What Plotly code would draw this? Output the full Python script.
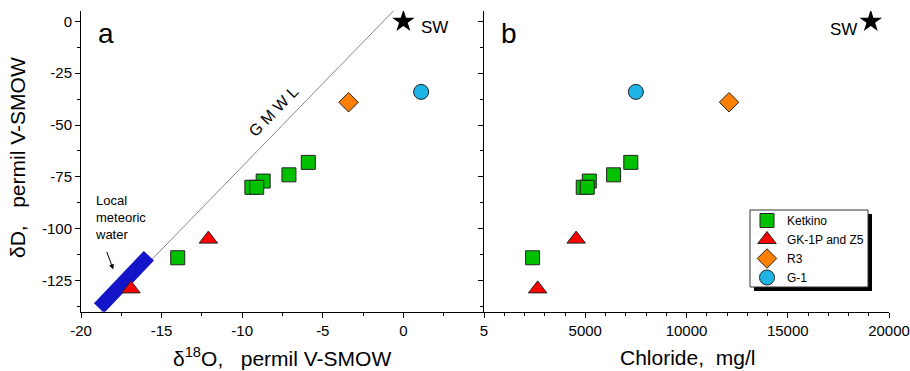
import plotly.graph_objects as go

W, H = 910, 371

# ---------------- data ----------------
# Panel a: delta18O vs deltaD ; Panel b: chloride vs deltaD
ketkino_d18o = [-5.9, -7.1, -8.7, -9.4, -9.1, -14.0]
ketkino_cl = [7250, 6400, 5200, 4900, 5100, 2400]
ketkino_dD = [-68, -74, -77, -80, -80, -114]

gk_d18o = [-12.1, -16.9]
gk_cl = [4550, 2650]
gk_dD = [-105, -129]

r3_d18o = [-3.4]
r3_cl = [12100]
r3_dD = [-39]

g1_d18o = [1.1]
g1_cl = [7500]
g1_dD = [-34]

sw_d18o = [0.0]
sw_cl = [19100]
sw_dD = [0.0]

# Global meteoric water line (dD = 8*d18O + 10)
gmwl_d18o = [-20, 0]
gmwl_dD = [-150, 10]
# Local meteoric water band
lmw_d18o = [-18.88, -15.79]
lmw_dD = [-138.3, -113.0]

# ticks
xa_tickvals = [-20, -15, -10, -5, 0, 5]
xa_ticktext = ["-20", "-15", "-10", "-5", "0", "5"]
xb_tickvals = [0, 5000, 10000, 15000, 20000]
xb_ticktext = ["", "5000", "10000", "15000", "20000"]
y_tickvals = [0, -25, -50, -75, -100, -125]
y_ticktext = ["0", "-25", "-50", "-75", "-100", "-125"]

# ---------------- styles ----------------
FONT = "Arial, Liberation Sans, sans-serif"
GREEN = "#00c000"
RED = "#ff0000"
ORANGE = "#ff8000"
CYAN = "#1eb4e6"
BLUE = "#1414c8"
OUT = dict(color="#222222", width=1)

def px(x):
    return x / W

def py(y):
    return 1 - y / H

xa_dom = [px(81), px(484)]
xb_dom = [px(484), px(889)]
y_dom = [py(311.7), py(11)]
XA_RANGE = [-20, 5]
XB_RANGE = [0, 20000]
Y_RANGE = [-140, 5]

fig = go.Figure()

# panel a
fig.add_trace(go.Scatter(x=gmwl_d18o, y=gmwl_dD, mode="lines",
                         line=dict(color="#888888", width=1),
                         showlegend=False, hoverinfo="skip", xaxis="x", yaxis="y"))
fig.add_trace(go.Scatter(x=lmw_d18o, y=lmw_dD, mode="lines",
                         line=dict(color=BLUE, width=14),
                         showlegend=False, hoverinfo="skip", xaxis="x", yaxis="y"))

series = [
    ("Ketkino", ketkino_d18o, ketkino_cl, ketkino_dD, "square", GREEN, 14),
    ("GK-1P and Z5", gk_d18o, gk_cl, gk_dD, "triangle-up", RED, 16),
    ("R3", r3_d18o, r3_cl, r3_dD, "diamond", ORANGE, 15),
    ("G-1", g1_d18o, g1_cl, g1_dD, "circle", CYAN, 15),
]
for name, xo, xc, yd, sym, col, sz in series:
    fig.add_trace(go.Scatter(x=xo, y=yd, mode="markers", name=name,
                             marker=dict(symbol=sym, color=col, size=sz, line=OUT),
                             xaxis="x", yaxis="y"))
for name, xo, xc, yd, sym, col, sz in series:
    fig.add_trace(go.Scatter(x=xc, y=yd, mode="markers", name=name, showlegend=False,
                             marker=dict(symbol=sym, color=col, size=sz, line=OUT),
                             xaxis="x2", yaxis="y2"))

fig.add_trace(go.Scatter(x=sw_d18o, y=sw_dD, mode="markers", showlegend=False,
                         marker=dict(symbol="star", color="black", size=17),
                         xaxis="x", yaxis="y"))
fig.add_trace(go.Scatter(x=sw_cl, y=sw_dD, mode="markers", showlegend=False,
                         marker=dict(symbol="star", color="black", size=17),
                         xaxis="x2", yaxis="y2"))

base_ax = dict(showgrid=False, zeroline=False, showline=True, linecolor="black",
               linewidth=1, tickcolor="black", ticklen=5, tickwidth=1, automargin=False,
               tickfont=dict(family=FONT, size=15, color="black"))

fig.update_layout(
    width=W, height=H,
    margin=dict(l=0, r=0, t=0, b=0, autoexpand=False),
    paper_bgcolor="white", plot_bgcolor="white",
    showlegend=True,
    xaxis=dict(base_ax, domain=xa_dom, range=XA_RANGE, anchor="y",
               tickmode="array", tickvals=xa_tickvals, ticktext=xa_ticktext, ticks="outside",
               minor=dict(dtick=2.5, tick0=0, ticks="outside", ticklen=3, tickcolor="black")),
    yaxis=dict(base_ax, domain=y_dom, range=Y_RANGE, anchor="x",
               tickmode="array", tickvals=y_tickvals, ticktext=y_ticktext, ticks="outside",
               minor=dict(dtick=12.5, tick0=0, ticks="outside", ticklen=3, tickcolor="black")),
    xaxis3=dict(base_ax, overlaying="x", matches="x", side="top", anchor="y", range=XA_RANGE,
                showticklabels=False, ticks="inside", tickmode="array", tickvals=xa_tickvals,
                minor=dict(dtick=2.5, tick0=0, ticks="inside", ticklen=3, tickcolor="black")),
    yaxis3=dict(base_ax, overlaying="y", matches="y", side="right", anchor="x", range=Y_RANGE,
                showticklabels=False, ticks="inside", tickmode="array", tickvals=y_tickvals,
                minor=dict(dtick=12.5, tick0=0, ticks="inside", ticklen=3, tickcolor="black")),
    xaxis2=dict(base_ax, domain=xb_dom, range=XB_RANGE, anchor="y2",
                tickmode="array", tickvals=xb_tickvals, ticktext=xb_ticktext, ticks="outside",
                minor=dict(dtick=1000, tick0=0, ticks="outside", ticklen=3, tickcolor="black")),
    yaxis2=dict(base_ax, domain=y_dom, range=Y_RANGE, anchor="x2",
                showticklabels=False, tickmode="array", tickvals=y_tickvals, ticks="outside",
                minor=dict(dtick=12.5, tick0=0, ticks="outside", ticklen=3, tickcolor="black")),
    xaxis4=dict(base_ax, overlaying="x2", matches="x2", side="top", anchor="y2", range=XB_RANGE,
                showticklabels=False, ticks="inside", tickmode="array", tickvals=xb_tickvals,
                minor=dict(dtick=1000, tick0=0, ticks="inside", ticklen=3, tickcolor="black")),
    yaxis4=dict(base_ax, overlaying="y2", matches="y2", side="right", anchor="x2", range=Y_RANGE,
                showticklabels=False, ticks="inside", tickmode="array", tickvals=y_tickvals,
                minor=dict(dtick=12.5, tick0=0, ticks="inside", ticklen=3, tickcolor="black")),
    legend=dict(x=px(747), y=py(206), xanchor="left", yanchor="top",
                bgcolor="rgba(0,0,0,0)", borderwidth=0,
                font=dict(family=FONT, size=12, color="black"),
                itemsizing="trace", tracegroupgap=0),
)

# legend box with drop shadow
fig.add_shape(type="rect", xref="paper", yref="paper",
              x0=px(754), x1=px(872), y0=py(291), y1=py(214),
              fillcolor="black", line=dict(width=0), layer="above")
fig.add_shape(type="rect", xref="paper", yref="paper",
              x0=px(750), x1=px(868), y0=py(287), y1=py(210),
              fillcolor="white", line=dict(color="#333333", width=1), layer="above")

ann = []
def txt(text, x, y, size, xanchor="center", yanchor="middle", angle=0, xref="paper", yref="paper", align="center"):
    ann.append(dict(text=text, x=x, y=y, xref=xref, yref=yref, showarrow=False,
                    xanchor=xanchor, yanchor=yanchor, textangle=angle, align=align,
                    font=dict(family=FONT, size=size, color="black")))

txt("a", px(106), py(33), 28)
txt("b", px(509), py(33), 28)
txt("SW", px(434), py(27), 17)
txt("SW", px(843), py(30), 17)
txt("G M W L", -8.07, -43.5, 16, angle=-45.9, xref="x", yref="y")
txt("Local<br>meteoric<br>water", px(93), py(217), 13, xanchor="left", align="left")
txt("δ<sup>18</sup>O,   permil V-SMOW", px(282), py(357), 21)
txt("Chloride,  mg/l", px(687), py(357), 21)
txt("δD,   permil V-SMOW", px(17), py(158), 21, angle=-90)

ann.append(dict(x=-18.0, y=-119.6, xref="x", yref="y", ax=-7, ay=-19, text="",
                showarrow=True, arrowhead=2, arrowsize=1, arrowwidth=1, arrowcolor="black"))
fig.update_layout(annotations=ann)

fig.write_html("out.html")
